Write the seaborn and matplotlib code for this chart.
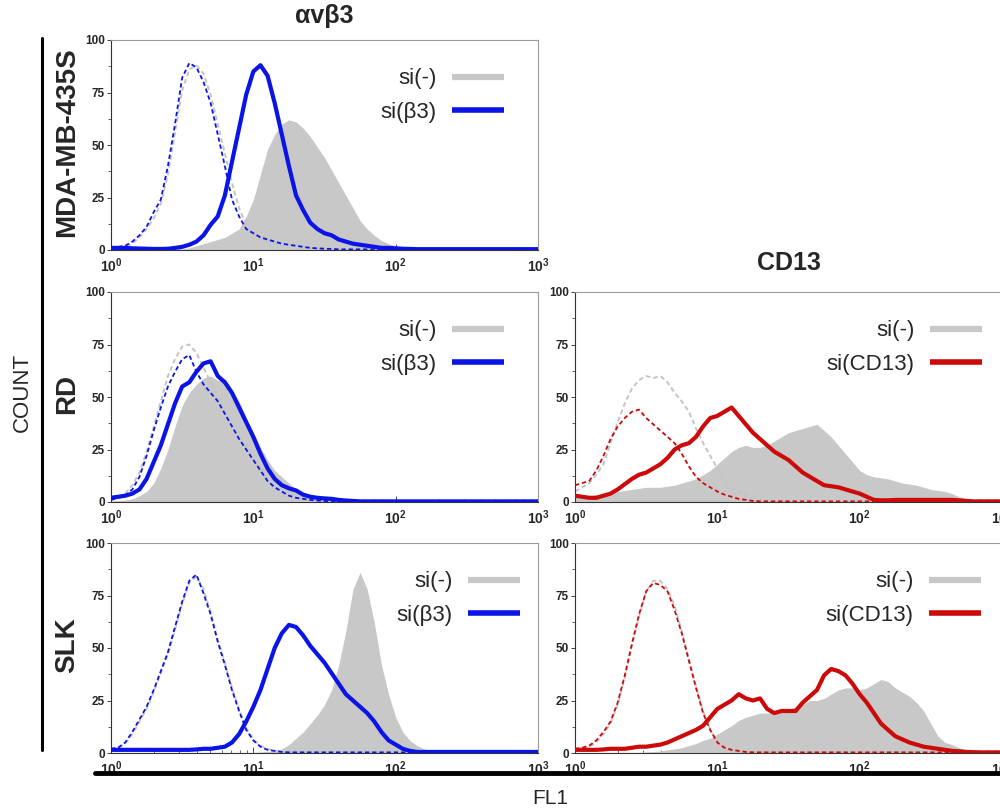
import numpy as np
import matplotlib
matplotlib.use("Agg")
import matplotlib.pyplot as plt
import seaborn as sns
from matplotlib.lines import Line2D
from matplotlib.ticker import FixedLocator, MultipleLocator, LogLocator, NullFormatter

sns.set_style("white")
plt.rcParams["font.family"] = ["Liberation Sans", "DejaVu Sans"]
plt.rcParams["mathtext.fontset"] = "custom"
plt.rcParams["mathtext.rm"] = "Liberation Sans"
plt.rcParams["mathtext.bf"] = "Liberation Sans:bold"

# ---- histogram bins (log10 of FL1, 0.05 decade steps) ----
LOG_BINS = np.round(np.arange(0, 3.0001, 0.05), 2)
FL1 = 10 ** LOG_BINS

X_TICKS = [1, 10, 100, 1000]
X_TICK_LABELS = [r"$\mathbf{10^{0}}$", r"$\mathbf{10^{1}}$", r"$\mathbf{10^{2}}$", r"$\mathbf{10^{3}}$"]
Y_TICKS = [0, 25, 50, 75, 100]

ROW_LABELS = ["MDA-MB-435S", "RD", "SLK"]
COL_TITLES = ["\u03b1v\u03b23", "CD13"]
LEGEND_NEG = "si(-)"
LEGEND_KD = ["si(\u03b23)", "si(CD13)"]

# ---- MDA-MB-435S, avb3 ----
MDA_B3_NEG_FILL = [0.5, 0.5, 0.5, 0.4, 0.3, 0.3, 0.2, 0.3, 0.3, 0.4, 0.5, 1, 2, 3, 4, 5, 6, 8, 10, 16,
                   24, 36, 48, 55, 60, 62, 61, 58, 54, 49, 44, 38, 32, 26, 20, 14, 10, 7, 4.5, 3,
                   2, 1.5, 1, 0.7, 0.5] + [0.3] * 16
MDA_B3_KD = [1, 1, 1, 0.8, 0.7, 0.6, 0.5, 0.5, 0.6, 1, 1.5, 2.5, 4, 7, 12, 16, 26, 42, 58, 74,
             85, 88, 83, 70, 55, 40, 26, 19, 13, 10, 8, 7, 5, 4, 3, 2.5, 2, 1.5, 1, 1,
             0.8, 0.6, 0.5] + [0.4] * 18
MDA_B3_KD_CTRL = [1, 1.5, 2, 4, 7, 11, 18, 24, 40, 60, 82, 89, 87, 80, 70, 55, 40, 24, 16, 10,
                  8, 6, 5, 4, 3, 2.5, 2, 1.5, 1, 0.8, 0.6, 0.5] + [0.3] * 29
MDA_B3_NEG_CTRL = [0.5, 1, 1.5, 3, 6, 10, 15, 22, 36, 56, 76, 86, 88, 84, 74, 60, 46, 32, 20, 12,
                   8, 5, 4, 3, 2, 1.5, 1, 0.8, 0.6, 0.5] + [0.3] * 31

# ---- RD, avb3 ----
RD_B3_NEG_FILL = [0.5, 0.7, 1, 1.5, 3, 5, 9, 16, 25, 36, 46, 52, 56, 59, 60, 58, 57, 53, 48, 40,
                  33, 26, 20, 15, 12, 9, 6, 4.5, 3.5, 2.7, 2, 1.5, 1, 0.7, 0.5] + [0.2] * 26
RD_B3_KD = [2, 2.5, 3, 4, 6, 11, 19, 27, 37, 47, 55, 57, 62, 66, 67, 60, 57, 52, 45, 38,
            31, 23, 16, 11, 8, 6.5, 5.5, 3.5, 2.5, 2, 1.7, 1.5, 1, 0.7, 0.5] + [0.3] * 26
RD_B3_KD_CTRL = [1, 2, 3, 6, 12, 22, 34, 45, 55, 62, 68, 70, 62, 56, 52, 48, 42, 36, 30, 25,
                 20, 15, 10, 7, 5, 3, 2, 1.5, 1, 0.7, 0.5] + [0.3] * 30
RD_B3_NEG_CTRL = [1, 2, 4, 8, 14, 24, 36, 48, 60, 68, 74, 75, 71, 64, 57, 50, 44, 38, 32, 27,
                  22, 16, 11, 8, 5, 3.5, 2.5, 1.5, 1, 0.7, 0.5] + [0.3] * 30

# ---- RD, CD13 ----
RD_CD13_NEG_FILL = [2, 2.5, 3, 3.5, 4, 4.5, 5, 5.5, 6, 6.5, 7, 7, 7, 7.5, 8, 9, 10, 11, 13, 15,
                    18, 21, 24, 26, 27, 26, 26, 27, 29, 31, 33, 34, 35, 36, 37, 34, 31, 27, 23, 19,
                    15, 13, 12, 11.5, 11, 10, 9, 8.5, 8, 7, 6, 5.5, 5, 4, 2.5, 1.5, 1, 0.8, 0.5, 0.5,
                    0.5]
RD_CD13_KD = [3, 2.5, 2, 2, 3, 4, 6, 8.5, 11, 13, 14, 16, 18, 21, 25, 27, 28, 31, 36, 40,
              41, 43, 45, 41, 37, 33, 30, 27, 24, 22, 20, 17, 14, 12, 10, 8, 7.5, 7, 6, 5,
              4, 2.5, 1, 0.8, 0.8, 1, 1, 1, 1, 1, 1, 1, 1, 1, 0.8, 0.5, 0.3, 0.3, 0.3, 0.3,
              0.3]
RD_CD13_KD_CTRL = [8, 9, 10, 15, 22, 30, 36, 40, 43, 44, 40, 37, 34, 31, 28, 23, 17, 12, 9, 7,
                   5, 3.5, 2.5, 1.5, 1, 0.5] + [0.3] * 35
RD_CD13_NEG_CTRL = [5, 7, 9, 13, 18, 28, 38, 47, 54, 58, 60, 59, 60, 57, 52, 48, 43, 35, 28, 22,
                    16, 10, 7, 5, 3, 2, 1, 0.5] + [0.3] * 33

# ---- SLK, avb3 ----
SLK_B3_NEG_FILL = [0.3] * 21 + [0.5, 0.8, 1, 2, 4, 7, 10, 14, 18, 23, 30, 42, 58, 78, 86, 78, 62, 42, 28,
                                17, 10, 6, 3.5, 2, 1, 0.5] + [0.2] * 14
SLK_B3_KD = [1.5, 1.5, 1.5, 1.5, 1.5, 1.5, 1.5, 1.5, 1.5, 1.5, 1.5, 1.5, 1.7, 2, 2, 2.5, 3, 5, 9, 15,
             22, 30, 40, 50, 57, 61, 60, 56, 51, 47, 43, 38, 33, 28, 25, 22, 19, 15, 10, 6,
             4, 2, 1] + [0.5] * 18
SLK_B3_KD_CTRL = [2, 2.5, 5, 10, 16, 22, 30, 39, 48, 60, 72, 82, 85, 76, 66, 53, 42, 30, 20, 11,
                  6, 3, 1.5, 1, 0.5] + [0.3] * 36
SLK_B3_NEG_CTRL = [2, 2.5, 4.5, 9, 15, 21, 29, 38, 47, 59, 71, 81, 84, 78, 67, 54, 43, 31, 21, 12,
                   6.5, 3.5, 2, 1, 0.5] + [0.3] * 36

# ---- SLK, CD13 ----
SLK_CD13_NEG_FILL = [0.3] * 10 + [0.5, 0.7, 1, 1.5, 2, 2.5, 3.5, 4.5, 6, 7,
                                  9, 11, 13, 15.5, 17, 18, 19, 19, 20, 20, 21, 22, 23, 25, 25, 26, 28, 30, 31, 31,
                                  30, 31, 33, 35, 34, 31, 29, 27, 24, 20, 14, 8, 5, 4, 2.5, 1.5, 0.8, 0.5, 0.3, 0.3,
                                  0.3]
SLK_CD13_KD = [1.5, 1.5, 1.5, 1.5, 1.7, 2, 2, 2, 2.5, 3, 3, 3.5, 4, 5, 6.5, 8, 9.5, 11, 13, 17,
               21, 23, 25, 28, 26, 25, 26, 21, 19, 20, 20, 20, 24, 27, 30, 37, 40, 39, 37, 33,
               28, 24, 19, 14, 11, 8, 6.5, 5, 4, 3, 2.5, 2, 1.5, 1, 0.8, 0.5, 0.4, 0.3, 0.3, 0.3,
               0.3]
SLK_CD13_KD_CTRL = [2, 2.5, 3.5, 6, 10, 15, 24, 37, 52, 66, 77, 81, 80, 77, 68, 57, 44, 31, 19, 11,
                    5, 2.5, 1.5, 1, 0.5] + [0.3] * 36
SLK_CD13_NEG_CTRL = [1.5, 2, 3, 5, 9, 14, 23, 36, 51, 65, 77, 82, 82, 78, 70, 58, 45, 32, 20, 11,
                     5.5, 3, 1.5, 1, 0.5] + [0.3] * 36

# ---- styling ----
GRAY_FILL = "#c8c8c8"
GRAY_DASH = "#c4c4c4"
BLUE = "#0a14e6"
RED = "#cc0a0a"

FIG_W, FIG_H = 1000, 810
COL_X = [111, 575]
AX_W = 427
ROW_TOP = [40, 292, 543]
AX_H = 210

# (row, col, fill, knockdown, knockdown ctrl, neg ctrl, colour, legend label, legend anchor x)
panels = [
    (0, 0, MDA_B3_NEG_FILL, MDA_B3_KD, MDA_B3_KD_CTRL, MDA_B3_NEG_CTRL, BLUE, LEGEND_KD[0], 0.920),
    (1, 0, RD_B3_NEG_FILL, RD_B3_KD, RD_B3_KD_CTRL, RD_B3_NEG_CTRL, BLUE, LEGEND_KD[0], 0.920),
    (1, 1, RD_CD13_NEG_FILL, RD_CD13_KD, RD_CD13_KD_CTRL, RD_CD13_NEG_CTRL, RED, LEGEND_KD[1], 0.953),
    (2, 0, SLK_B3_NEG_FILL, SLK_B3_KD, SLK_B3_KD_CTRL, SLK_B3_NEG_CTRL, BLUE, LEGEND_KD[0], 0.958),
    (2, 1, SLK_CD13_NEG_FILL, SLK_CD13_KD, SLK_CD13_KD_CTRL, SLK_CD13_NEG_CTRL, RED, LEGEND_KD[1], 0.951),
]

fig = plt.figure(figsize=(10, 8.1), dpi=100)

for row, col, fill, kd, kd_ctrl, neg_ctrl, colour, kd_label, leg_x in panels:
    x0 = COL_X[col] / FIG_W
    y0 = (FIG_H - ROW_TOP[row] - AX_H) / FIG_H
    ax = fig.add_axes([x0, y0, AX_W / FIG_W, AX_H / FIG_H])
    ax.set_xscale("log")
    ax.fill_between(FL1, 0, fill, color=GRAY_FILL, linewidth=0, zorder=1)
    sns.lineplot(x=FL1, y=neg_ctrl, ax=ax, color=GRAY_DASH, linewidth=1.4,
                 linestyle=(0, (2.4, 1.6)), zorder=2)
    sns.lineplot(x=FL1, y=kd_ctrl, ax=ax, color=colour, linewidth=1.3,
                 linestyle=(0, (2.4, 1.6)), zorder=3)
    sns.lineplot(x=FL1, y=kd, ax=ax, color=colour, linewidth=3.0, zorder=4)
    ax.set_xlim(1, 1000)
    ax.set_ylim(0, 100)
    ax.set(xlabel="", ylabel="")

    ax.xaxis.set_major_locator(FixedLocator(X_TICKS))
    ax.set_xticklabels(X_TICK_LABELS, fontsize=10)
    ax.xaxis.set_minor_locator(LogLocator(base=10, subs=np.arange(2, 10)))
    ax.xaxis.set_minor_formatter(NullFormatter())
    ax.set_yticks(Y_TICKS)
    ax.set_yticklabels([str(v) for v in Y_TICKS], fontsize=8.5, fontweight="bold")
    ax.yaxis.set_minor_locator(MultipleLocator(12.5))
    ax.tick_params(axis="x", which="major", direction="in", length=4, width=0.6, pad=4.5)
    ax.tick_params(axis="x", which="minor", direction="in", length=2.5, width=0.5)
    ax.tick_params(axis="y", which="major", direction="out", length=3, width=0.6, pad=1.5)
    ax.tick_params(axis="y", which="minor", direction="out", length=2, width=0.5)
    ax.tick_params(which="both", bottom=True, left=True, top=False, right=False)

    for side in ["left", "bottom"]:
        ax.spines[side].set_color("#333333")
        ax.spines[side].set_linewidth(0.8)
    for side in ["top", "right"]:
        ax.spines[side].set_color("#9a9a9a")
        ax.spines[side].set_linewidth(0.8)

    handles = [Line2D([], [], color=GRAY_FILL, linewidth=4.5, solid_capstyle="butt"),
               Line2D([], [], color=colour, linewidth=4.0, solid_capstyle="butt")]
    ax.legend(handles, [LEGEND_NEG, kd_label], loc="upper right",
              bbox_to_anchor=(leg_x, 0.865), frameon=False, markerfirst=False,
              handlelength=2.35, handletextpad=0.68, labelspacing=0.58,
              fontsize=16, borderaxespad=0, borderpad=0)

# column titles
fig.text((COL_X[0] + AX_W / 2) / FIG_W, (FIG_H - 16) / FIG_H, COL_TITLES[0],
         ha="center", va="center", fontsize=18, fontweight="bold")
fig.text((COL_X[1] + AX_W / 2) / FIG_W, (FIG_H - 263) / FIG_H, COL_TITLES[1],
         ha="center", va="center", fontsize=18, fontweight="bold")

# row labels
for row, label in enumerate(ROW_LABELS):
    yc = (FIG_H - ROW_TOP[row] - AX_H / 2 + 3) / FIG_H
    fig.text(0.067, yc, label, rotation=90, ha="center", va="center",
             fontsize=20, fontweight="bold")

# axis titles and frame lines
fig.text(0.022, (FIG_H - 392) / FIG_H, "COUNT", rotation=90, ha="center", va="center", fontsize=16)
fig.text(0.550, (FIG_H - 799) / FIG_H, "FL1", ha="center", va="center", fontsize=15)
fig.add_artist(Line2D([0.042, 0.042], [(FIG_H - 38) / FIG_H, (FIG_H - 750) / FIG_H],
                      transform=fig.transFigure, color="black", linewidth=2.2))
fig.add_artist(Line2D([0.095, 1.0], [(FIG_H - 773) / FIG_H] * 2,
                      transform=fig.transFigure, color="black", linewidth=3.5))

fig.savefig("out.png", dpi=100)
